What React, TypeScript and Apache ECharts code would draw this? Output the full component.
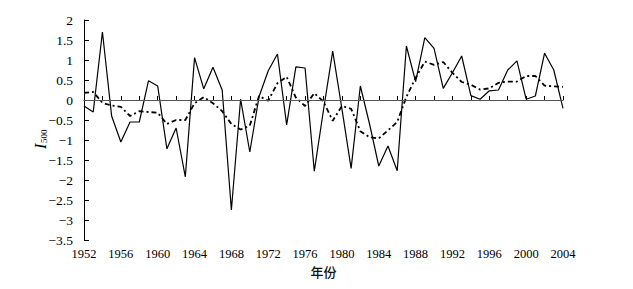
import React, { useEffect, useRef } from "react";
import * as echarts from "echarts";

const years: number[] = [];
for (let y = 1952; y <= 2004; y++) years.push(y);

const i500: number[] = [
  -0.15, -0.3, 1.7, -0.4, -1.05, -0.55, -0.55, 0.48, 0.35, -1.22,
  -0.7, -1.92, 1.06, 0.28, 0.82, 0.25, -2.75, 0.02, -1.3, 0.08,
  0.73, 1.15, -0.62, 0.83, 0.8, -1.78, -0.25, 1.22, -0.22, -1.71,
  0.35, -0.6, -1.65, -1.15, -1.77, 1.35, 0.46, 1.56, 1.29, 0.29,
  0.68, 1.1, 0.11, 0.02, 0.23, 0.25, 0.75, 0.98, 0.02, 0.1,
  1.17, 0.75, -0.21,
];

const smooth: number[] = [
  0.18, 0.2, -0.07, -0.14, -0.17, -0.4, -0.28, -0.3, -0.32, -0.6,
  -0.5, -0.5, -0.08, 0.07, -0.08, -0.28, -0.6, -0.74, -0.64, 0.1,
  -0.02, 0.42, 0.58, 0.06, -0.15, 0.17, -0.04, -0.52, -0.15, -0.22,
  -0.78, -0.93, -0.96, -0.76, -0.55, 0.08, 0.55, 0.96, 0.88, 0.95,
  0.68, 0.45, 0.38, 0.26, 0.29, 0.43, 0.46, 0.46, 0.6, 0.6,
  0.36, 0.34, 0.33,
];

const xLabelStep = 4;
const yAxisName = { main: "I", sub: "500" };
const xAxisName = "年份";

export default function App() {
  const ref = useRef<HTMLDivElement>(null);
  useEffect(() => {
    if (!ref.current) return;
    document.body.style.margin = "0";
    const chart = echarts.init(ref.current, null, { renderer: "svg" });
    const serif = "Liberation Serif";
    chart.setOption({
      animation: false,
      backgroundColor: "#ffffff",
      grid: { left: 84, right: 70, top: 20, bottom: 49 },
      xAxis: {
        type: "value",
        min: 1952,
        max: 2004,
        interval: 2,
        name: xAxisName,
        nameLocation: "middle",
        nameGap: 22,
        nameTextStyle: {
          fontFamily: "Noto Sans CJK SC",
          fontSize: 13,
          fontWeight: 500,
          color: "#111",
        },
        axisLine: { lineStyle: { color: "#000", width: 1 } },
        axisTick: { inside: true, length: 4, lineStyle: { color: "#000" } },
        axisLabel: {
          fontFamily: serif,
          fontSize: 12.5,
          color: "#000",
          margin: 7,
          formatter: (v: number) =>
            (v - 1952) % xLabelStep === 0 ? String(v) : "",
        },
        splitLine: { show: false },
      },
      yAxis: {
        type: "value",
        min: -3.5,
        max: 2,
        interval: 0.5,
        axisLine: { show: true, lineStyle: { color: "#000", width: 1 } },
        axisTick: { show: true, inside: true, length: 5, lineStyle: { color: "#000" } },
        axisLabel: {
          fontFamily: serif,
          fontSize: 13.5,
          color: "#000",
          margin: 11,
          formatter: (v: number) => (v < 0 ? "\u2212" + Math.abs(v) : String(v)),
        },
        splitLine: { show: false },
      },
      graphic: [
        {
          type: "group",
          x: 40,
          y: 149,
          rotation: Math.PI / 2,
          children: [
            {
              type: "text",
              x: 0,
              y: 0,
              style: {
                text: yAxisName.main,
                font: "italic 16px 'Liberation Serif', serif",
                fill: "#000",
                textVerticalAlign: "middle",
              },
            },
            {
              type: "text",
              x: 6,
              y: 4,
              style: {
                text: yAxisName.sub,
                font: "9px 'Liberation Serif', serif",
                fill: "#000",
                textVerticalAlign: "middle",
              },
            },
          ],
        },
      ],
      series: [
        {
          type: "line",
          data: years.map((y, i) => [y, i500[i]]),
          symbol: "none",
          lineStyle: { color: "#000", width: 1.2 },
          markLine: {
            silent: true,
            symbol: ["none", "none"],
            label: { show: false },
            lineStyle: { color: "#555", width: 1, type: "solid" },
            data: [{ yAxis: 0 }],
          },
          z: 3,
        },
        {
          type: "line",
          data: years.map((y, i) => [y, smooth[i]]),
          symbol: "none",
          lineStyle: { color: "#000", width: 1.8, type: [5, 3, 2, 3] },
          z: 2,
        },
      ],
    });
    return () => chart.dispose();
  }, []);
  return <div ref={ref} style={{ width: 633, height: 289 }} />;
}
